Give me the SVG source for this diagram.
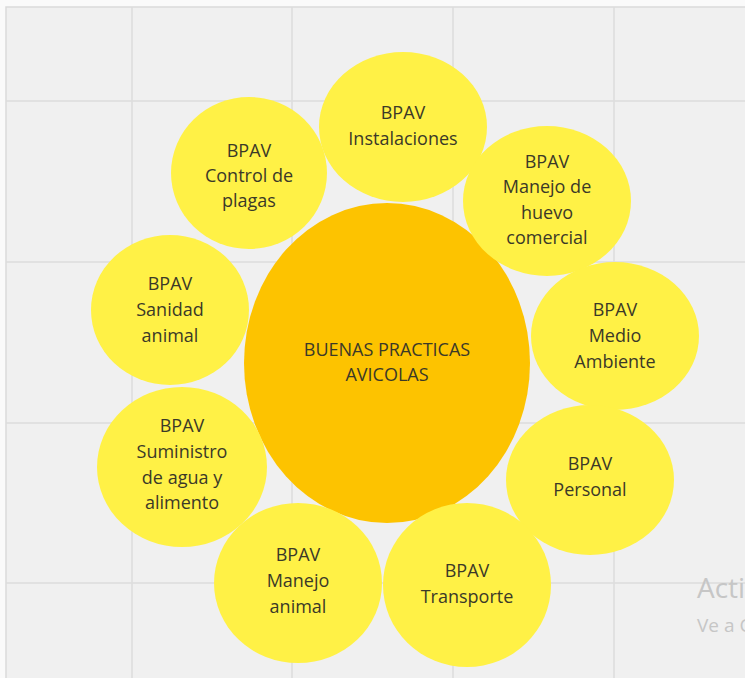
<svg xmlns="http://www.w3.org/2000/svg" width="745" height="678" viewBox="0 0 745 678">
  <style>
    .grid { stroke: #dcdcdc; stroke-width: 1.5; fill: none; }
    .hub { fill: #fdc300; }
    .petal { fill: #fff146; }
    .label { font-family: "Open Sans", "Liberation Sans", sans-serif; font-size: 18px; fill: #3b3928; text-anchor: middle; }
    .wm { font-family: "Open Sans", "Liberation Sans", sans-serif; fill: #c6c6c6; }
  </style>

  <!-- canvas background and grid -->
  <rect x="0" y="0" width="745" height="678" fill="#fafafa"/>
  <rect x="6" y="7" width="760" height="690" fill="#f0f0f0" stroke="#dadada" stroke-width="1.5"/>
  <g class="grid">
    <line x1="132" y1="7" x2="132" y2="678"/>
    <line x1="292" y1="7" x2="292" y2="678"/>
    <line x1="453" y1="7" x2="453" y2="678"/>
    <line x1="614" y1="7" x2="614" y2="678"/>
    <line x1="6" y1="101" x2="745" y2="101"/>
    <line x1="6" y1="262" x2="745" y2="262"/>
    <line x1="6" y1="423" x2="745" y2="423"/>
    <line x1="6" y1="583" x2="745" y2="583"/>
  </g>

  <!-- no connectors in this layout -->
  <g id="connectors"/>

  <g id="center">
    <ellipse class="hub" cx="387" cy="363" rx="143" ry="160"/>
    <text class="label"><tspan x="387" y="356">BUENAS PRACTICAS</tspan><tspan x="387" y="381">AVICOLAS</tspan></text>
  </g>

  <g id="instalaciones">
    <ellipse class="petal" cx="403" cy="127" rx="84" ry="75"/>
    <text class="label"><tspan x="403" y="119">BPAV</tspan><tspan x="403" y="145">Instalaciones</tspan></text>
  </g>

  <g id="control-plagas">
    <ellipse class="petal" cx="249" cy="173" rx="78" ry="76"/>
    <text class="label"><tspan x="249" y="157">BPAV</tspan><tspan x="249" y="182">Control de</tspan><tspan x="249" y="207">plagas</tspan></text>
  </g>

  <g id="manejo-huevo">
    <ellipse class="petal" cx="547" cy="201" rx="84" ry="75"/>
    <text class="label"><tspan x="547" y="168">BPAV</tspan><tspan x="547" y="193">Manejo de</tspan><tspan x="547" y="219">huevo</tspan><tspan x="547" y="244">comercial</tspan></text>
  </g>

  <g id="sanidad-animal">
    <ellipse class="petal" cx="170" cy="310" rx="79" ry="75"/>
    <text class="label"><tspan x="170" y="290">BPAV</tspan><tspan x="170" y="316">Sanidad</tspan><tspan x="170" y="342">animal</tspan></text>
  </g>

  <g id="medio-ambiente">
    <ellipse class="petal" cx="615" cy="336" rx="84" ry="74"/>
    <text class="label"><tspan x="615" y="316">BPAV</tspan><tspan x="615" y="342">Medio</tspan><tspan x="615" y="368">Ambiente</tspan></text>
  </g>

  <g id="suministro">
    <ellipse class="petal" cx="182" cy="467" rx="85" ry="80"/>
    <text class="label"><tspan x="182" y="432">BPAV</tspan><tspan x="182" y="458">Suministro</tspan><tspan x="182" y="484">de agua y</tspan><tspan x="182" y="509">alimento</tspan></text>
  </g>

  <g id="personal">
    <ellipse class="petal" cx="590" cy="480" rx="84" ry="75"/>
    <text class="label"><tspan x="590" y="470">BPAV</tspan><tspan x="590" y="496">Personal</tspan></text>
  </g>

  <g id="manejo-animal">
    <ellipse class="petal" cx="298" cy="583" rx="84" ry="80"/>
    <text class="label"><tspan x="298" y="561">BPAV</tspan><tspan x="298" y="587">Manejo</tspan><tspan x="298" y="613">animal</tspan></text>
  </g>

  <g id="transporte">
    <ellipse class="petal" cx="467" cy="585" rx="84" ry="82"/>
    <text class="label"><tspan x="467" y="577">BPAV</tspan><tspan x="467" y="603">Transporte</tspan></text>
  </g>

  <!-- faint overlay text at the lower right -->
  <text class="wm" x="697" y="598" font-size="28">Acti</text>
  <text class="wm" x="697" y="632" font-size="19">Ve a C</text>
</svg>
